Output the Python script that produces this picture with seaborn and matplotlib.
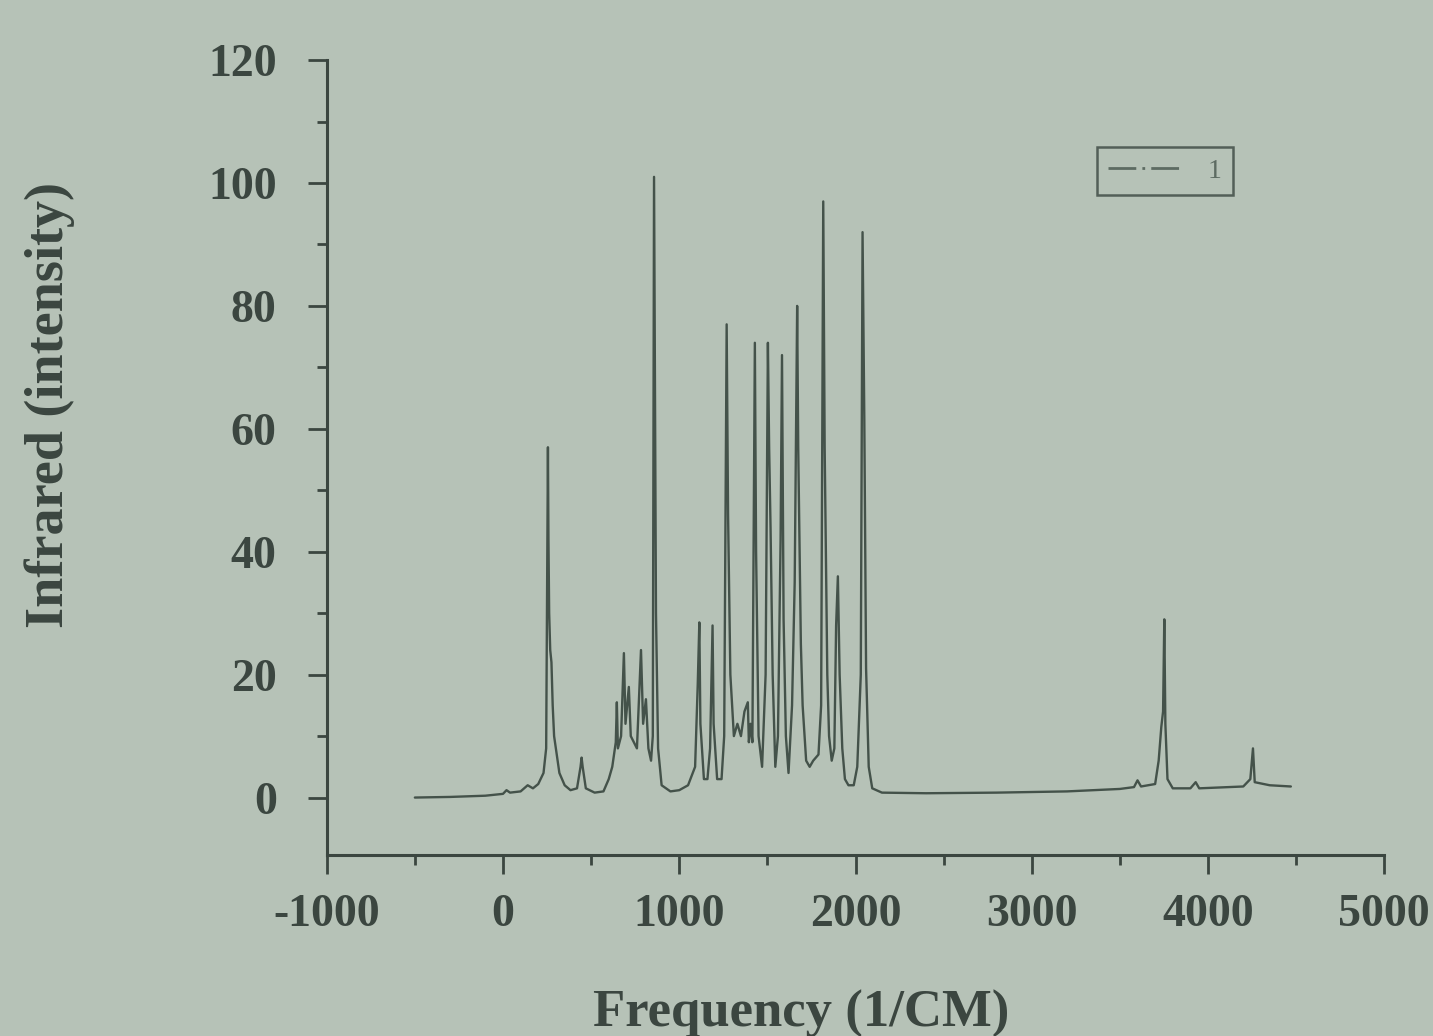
import numpy as np
import pandas as pd
import matplotlib
matplotlib.use("Agg")
import matplotlib.pyplot as plt
import seaborn as sns
from matplotlib.lines import Line2D

# ---- data ----
frequency = [
    -500, -300, -100, 0, 20, 40, 100, 140, 170, 200, 230, 245, 252, 255, 258, 262, 268, 275, 282,
    290, 300, 320, 350, 383, 420, 440, 446, 452, 470, 520, 570, 600, 620, 640, 646, 652, 670, 686,
    695, 714, 725, 760, 783, 795, 811, 825, 840, 850, 857, 863, 868, 880, 900, 950, 1000, 1050,
    1090, 1105, 1114, 1120, 1140, 1160, 1175, 1189, 1195, 1215, 1240, 1255, 1269, 1277, 1290, 1310,
    1330, 1350, 1370, 1389, 1395, 1405, 1415, 1422, 1429, 1436, 1450, 1470, 1490, 1503, 1510, 1518,
    1530, 1545, 1560, 1575, 1583, 1592, 1605, 1620, 1640, 1655, 1669, 1675, 1690, 1700, 1720, 1740,
    1760, 1790, 1805, 1817, 1825, 1840, 1850, 1865, 1880, 1890, 1900, 1910, 1925, 1940, 1960, 1990,
    2010, 2030, 2040, 2050, 2060, 2075, 2095, 2150, 2400, 2800, 3200, 3500, 3580, 3600, 3620, 3700,
    3720, 3735, 3745, 3752, 3758, 3770, 3800, 3900, 3930, 3950, 4200, 4240, 4255, 4265, 4350, 4470,
]
intensity = [
    0.0, 0.1, 0.3, 0.6, 1.2, 0.8, 1.0, 2.0, 1.5, 2.2, 4.0, 8.0, 42.0, 57.0, 42.0, 30.0, 24.0, 22.0, 15.0,
    10.0, 8.0, 4.0, 2.0, 1.2, 1.5, 5.0, 6.5, 5.0, 1.5, 0.8, 1.0, 3.0, 5.0, 9.0, 15.5, 8.0, 10.0, 23.5,
    12.0, 18.0, 10.0, 8.0, 24.0, 12.0, 16.0, 8.0, 6.0, 10.0, 101.0, 60.0, 30.0, 8.0, 2.0, 1.0, 1.2, 2.0,
    5.0, 18.5, 28.5, 12.0, 3.0, 3.0, 8.0, 28.0, 12.0, 3.0, 3.0, 10.0, 77.0, 46.0, 20.0, 10.0,
    12.0, 10.0, 14.0, 15.5, 9.0, 12.0, 9.0, 43.0, 74.0, 40.0, 10.0, 5.0, 20.0, 74.0, 57.0, 44.0,
    20.0, 5.0, 10.0, 42.0, 72.0, 29.0, 10.0, 4.0, 15.0, 35.0, 80.0, 57.0, 25.0, 15.0, 6.0, 5.0,
    6.0, 7.0, 15.0, 97.0, 57.0, 20.0, 10.0, 6.0, 8.0, 28.0, 36.0, 20.0, 8.0, 3.0, 2.0, 2.0,
    5.0, 20.0, 92.0, 61.5, 21.0, 5.0, 1.5, 0.8, 0.7, 0.8, 1.0, 1.4, 1.7, 2.8, 1.8, 2.2,
    6.0, 11.5, 14.0, 29.0, 12.0, 3.0, 1.5, 1.5, 2.5, 1.5, 1.8, 3.0, 8.0, 2.5, 2.0, 1.8,
]
series_name = ["1"]
x_ticks = [-1000, 0, 1000, 2000, 3000, 4000, 5000]
x_minor = [-500, 500, 1500, 2500, 3500, 4500]
y_ticks = [0, 20, 40, 60, 80, 100, 120]
y_minor = [10, 30, 50, 70, 90, 110]

bg = "#b6c2b7"
ink = "#3b4640"
line_col = "#44524a"
legend_col = "#5d6b62"

sns.set_theme(style="ticks")
plt.rcParams["font.family"] = ["Liberation Serif", "DejaVu Serif"]
plt.rcParams["font.weight"] = "bold"
plt.rcParams["axes.labelweight"] = "bold"

fig = plt.figure(figsize=(14.33, 10.36), dpi=100, facecolor=bg)
ax = fig.add_axes([0.228, 0.175, 0.738, 0.767])
ax.set_facecolor(bg)

df = pd.DataFrame({"Frequency": frequency, "Intensity": intensity})
sns.lineplot(data=df, x="Frequency", y="Intensity", ax=ax, color=line_col,
             lw=1.7, sort=False, estimator=None, legend=False)

ax.set_xlim(-1000, 5000)
ax.set_ylim(-9.3, 120)
ax.set_xticks(x_ticks)
ax.set_xticks(x_minor, minor=True)
ax.set_yticks(y_ticks)
ax.set_yticks(y_minor, minor=True)
ax.set_xticklabels([str(v) for v in x_ticks])
ax.set_yticklabels([str(v) for v in y_ticks])

for s in ["top", "right"]:
    ax.spines[s].set_visible(False)
for s in ["left", "bottom"]:
    ax.spines[s].set_color(ink)
    ax.spines[s].set_linewidth(2.2)

ax.tick_params(which="major", direction="out", length=14, width=2, color=ink,
               labelcolor=ink, labelsize=33)
ax.tick_params(which="minor", direction="out", length=7, width=2, color=ink)
ax.tick_params(axis="x", which="major", pad=14)
ax.tick_params(axis="y", which="major", pad=22)

ax.set_xlabel("Frequency (1/CM)", fontsize=38, color=ink)
ax.set_ylabel("Infrared (intensity)", fontsize=39, color=ink)
ax.xaxis.set_label_coords(0.449, -0.17)
ax.yaxis.set_label_coords(-0.238, 0.566)

handle = Line2D([0], [0], color=legend_col, lw=2.0, ls=(0, (10, 2.2, 1, 2.2, 10, 10)))
leg = ax.legend(handles=[handle], labels=series_name, loc="upper left",
                bbox_to_anchor=(0.728, 0.8906), borderaxespad=0, frameon=True,
                fancybox=False, fontsize=20, handlelength=3.1, borderpad=0.4,
                handletextpad=0.5)
leg.get_frame().set_facecolor(bg)
leg.get_frame().set_edgecolor(ink)
leg.get_frame().set_linewidth(1.8)
for t in leg.get_texts():
    t.set_color(legend_col)
    t.set_fontweight("normal")

fig.savefig("out.png", dpi=100, facecolor=bg)
